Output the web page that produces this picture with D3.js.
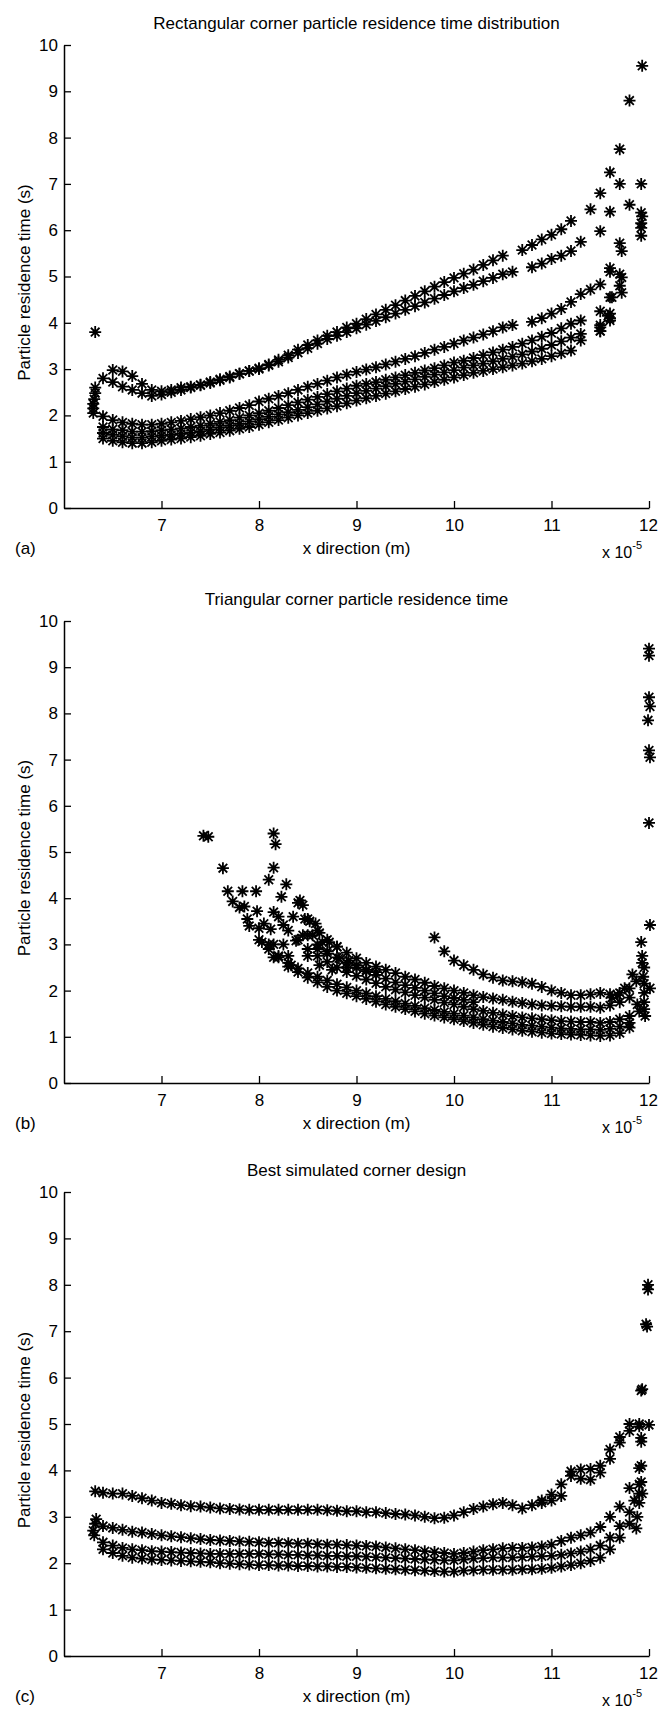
<!DOCTYPE html>
<html>
<head>
<meta charset="utf-8">
<script src="https://cdn.jsdelivr.net/npm/d3@7"></script>
<style>
  html, body { margin: 0; padding: 0; background: #fff; }
  svg text { font-family: "Liberation Sans", Arial, sans-serif; fill: #000; }
</style>
</head>
<body>
<svg id="chart" width="658" height="1709"></svg>
<script>
// x is in units of 1e-5 m, residence time in s
const xTicks = [7, 8, 9, 10, 11, 12];
const yTicks = [0, 1, 2, 3, 4, 5, 6, 7, 8, 9, 10];
const titles = [
  "Rectangular corner particle residence time distribution",
  "Triangular corner particle residence time",
  "Best simulated corner design"
];
const tags = ["(a)", "(b)", "(c)"];

// (a) rectangular corner
const rectX = [6.4, 6.5, 6.6, 6.7, 6.8, 6.9, 7.0, 7.1, 7.2, 7.3,
  7.4, 7.5, 7.6, 7.7, 7.8, 7.9, 8.0, 8.1, 8.2, 8.3,
  8.4, 8.5, 8.6, 8.7, 8.8, 8.9, 9.0, 9.1, 9.2, 9.3,
  9.4, 9.5, 9.6, 9.7, 9.8, 9.9, 10.0, 10.1, 10.2, 10.3,
  10.4, 10.5, 10.6, 10.7, 10.8, 10.9, 11.0, 11.1, 11.2, 11.3,
  11.4, 11.5, 11.6];
const rectA1 = [2.80, 2.72, 2.62, 2.55, 2.48, 2.42, 2.45, 2.50, 2.55, 2.60,
  2.65, 2.70, 2.76, 2.82, 2.90, 2.96, 3.02, 3.10, 3.20, 3.30,
  3.42, 3.52, 3.62, 3.72, 3.80, 3.90, 3.98, 4.08, 4.18, 4.28,
  4.38, 4.48, 4.58, 4.68, 4.78, 4.88, 4.97, 5.06, 5.15, 5.25,
  5.35, 5.45, null, 5.57, 5.68, 5.80, 5.90, 6.02, 6.20, null,
  6.45, 6.80, 7.25];
const rectA2 = [null, 2.98, 2.95, 2.85, 2.68, 2.55, 2.52, 2.55, 2.60, 2.62,
  2.66, 2.72, 2.78, 2.84, 2.90, 2.96, 3.00, 3.08, 3.16, 3.25,
  3.35, 3.45, 3.55, 3.65, 3.72, 3.80, 3.88, 3.96, 4.04, 4.12,
  4.20, 4.28, 4.36, 4.44, 4.52, 4.60, 4.68, 4.75, 4.82, 4.90,
  4.97, 5.05, 5.10, null, 5.20, 5.28, 5.38, 5.45, 5.55, 5.75,
  null, 5.98, 6.40];
const rectA3 = [1.98, 1.90, 1.85, 1.82, 1.80, 1.80, 1.82, 1.85, 1.88, 1.92,
  1.96, 2.00, 2.05, 2.10, 2.16, 2.22, 2.30, 2.36, 2.42, 2.48,
  2.55, 2.62, 2.68, 2.75, 2.82, 2.88, 2.94, 2.99, 3.04, 3.10,
  3.16, 3.22, 3.28, 3.35, 3.42, 3.48, 3.55, 3.62, 3.68, 3.75,
  3.82, 3.90, 3.95, null, 4.02, 4.10, 4.20, 4.30, 4.45, 4.62,
  4.72, 4.83, 5.18];
const rectA4 = [1.75, 1.70, 1.68, 1.65, 1.65, 1.66, 1.68, 1.70, 1.72, 1.75,
  1.78, 1.82, 1.86, 1.90, 1.95, 2.00, 2.05, 2.10, 2.16, 2.22,
  2.28, 2.34, 2.40, 2.46, 2.52, 2.58, 2.64, 2.68, 2.72, 2.77,
  2.82, 2.87, 2.92, 2.97, 3.02, 3.08, 3.14, 3.18, 3.24, 3.30,
  3.36, 3.42, 3.48, 3.55, 3.62, 3.70, 3.78, 3.88, 3.98, 4.05,
  null, null, 4.55];
const rectA5 = [1.62, 1.58, 1.55, 1.52, 1.52, 1.54, 1.56, 1.58, 1.60, 1.63,
  1.66, 1.70, 1.74, 1.78, 1.82, 1.87, 1.92, 1.97, 2.02, 2.07,
  2.12, 2.18, 2.24, 2.30, 2.36, 2.42, 2.48, 2.53, 2.58, 2.63,
  2.68, 2.73, 2.78, 2.83, 2.88, 2.93, 2.98, 3.03, 3.08, 3.12,
  3.17, 3.22, 3.27, 3.32, 3.38, 3.44, 3.52, 3.60, 3.68, 3.76,
  null, 3.95, 4.10];
const rectA6 = [1.50, 1.45, 1.42, 1.40, 1.40, 1.42, 1.45, 1.48, 1.50, 1.53,
  1.56, 1.60, 1.63, 1.67, 1.71, 1.75, 1.80, 1.85, 1.90, 1.95,
  2.00, 2.05, 2.10, 2.15, 2.20, 2.26, 2.32, 2.37, 2.42, 2.47,
  2.52, 2.57, 2.62, 2.67, 2.72, 2.77, 2.82, 2.87, 2.92, 2.96,
  3.00, 3.04, 3.08, 3.12, 3.17, 3.22, 3.28, 3.34, 3.40, 3.62,
  null, 3.82, 4.05];
const rectExtra = [[6.30, 2.05], [6.30, 2.15], [6.30, 2.25], [6.31, 2.35], [6.32, 2.48], [6.32, 2.60],
  [6.32, 3.80], [11.70, 7.75], [11.80, 8.80], [11.93, 9.55], [11.70, 7.00], [11.80, 6.55],
  [11.92, 7.00], [11.92, 6.38], [11.93, 6.30], [11.92, 6.15], [11.92, 6.05], [11.92, 5.88],
  [11.70, 5.72], [11.72, 5.55], [11.70, 5.05], [11.72, 4.98], [11.70, 4.80], [11.72, 4.65],
  [11.60, 5.10], [11.62, 4.55], [11.60, 4.20], [11.58, 4.15], [11.50, 4.25], [11.50, 3.90],
  [11.50, 3.82]];

// (b) triangular corner
const triX = [7.8, 7.9, 8.0, 8.1, 8.2, 8.3, 8.4, 8.5, 8.6, 8.7,
  8.8, 8.9, 9.0, 9.1, 9.2, 9.3, 9.4, 9.5, 9.6, 9.7,
  9.8, 9.9, 10.0, 10.1, 10.2, 10.3, 10.4, 10.5, 10.6, 10.7,
  10.8, 10.9, 11.0, 11.1, 11.2, 11.3, 11.4, 11.5, 11.6, 11.7,
  11.8];
const triB1 = [null, null, null, null, null, null, null, null, null, null,
  null, null, null, null, null, null, null, null, null, null,
  3.15, 2.85, 2.65, 2.55, 2.45, 2.35, 2.28, 2.22, 2.20, 2.18,
  2.15, 2.08, 2.00, 1.95, 1.90, 1.90, 1.92, 1.95, 1.92, 1.95,
  2.05];
const triB2 = [null, null, null, null, null, null, 3.90, 3.55, 3.30, 3.10,
  2.95, 2.82, 2.70, 2.60, 2.52, 2.45, 2.38, 2.30, 2.24, 2.17,
  2.10, 2.05, 2.00, 1.95, 1.90, 1.86, 1.83, 1.80, 1.76, 1.73,
  1.70, 1.68, 1.67, 1.66, 1.65, 1.65, 1.65, 1.63, 1.68, 1.75,
  1.85];
const triB6 = [null, null, null, null, null, null, null, 3.20, 3.00, 2.85,
  2.72, 2.60, 2.50, 2.42, 2.34, 2.26, 2.18, 2.12, 2.06, 2.00,
  1.94, 1.88, 1.84, 1.80, 1.75, null, null, null, null, null,
  null, null, null, null, null, null, null, null, null, null,
  null];
const triB3 = [null, null, null, null, 3.60, 3.30, 3.10, 2.90, 2.75, 2.62,
  2.50, 2.40, 2.32, 2.24, 2.16, 2.08, 2.02, 1.96, 1.90, 1.85,
  1.80, 1.74, 1.70, 1.65, 1.60, 1.56, 1.52, 1.48, 1.45, 1.42,
  1.40, 1.38, 1.36, 1.34, 1.33, 1.32, 1.32, 1.30, 1.32, 1.38,
  1.45];
const triB4 = [null, null, 3.35, 3.00, 2.75, 2.60, 2.48, 2.38, 2.30, 2.22,
  2.14, 2.07, 2.00, 1.94, 1.88, 1.82, 1.77, 1.72, 1.67, 1.62,
  1.58, 1.54, 1.50, 1.46, 1.42, 1.38, 1.35, 1.32, 1.29, 1.26,
  1.24, 1.22, 1.20, 1.18, 1.17, 1.16, 1.16, 1.15, 1.17, 1.22,
  1.30];
const triB5 = [3.80, 3.40, 3.10, 2.90, 2.72, 2.52, 2.40, 2.28, 2.18, 2.08,
  2.00, 1.94, 1.88, 1.82, 1.76, 1.70, 1.65, 1.60, 1.55, 1.50,
  1.46, 1.42, 1.38, 1.34, 1.30, 1.26, 1.22, 1.19, 1.16, 1.13,
  1.11, 1.09, 1.07, 1.06, 1.05, 1.04, 1.03, 1.02, 1.03, 1.08,
  1.20];
const triExtra = [[7.43, 5.35], [7.48, 5.33], [7.63, 4.65], [7.68, 4.15], [7.73, 3.93], [7.83, 4.15],
  [7.97, 4.15], [7.85, 3.82], [7.98, 3.72], [7.88, 3.55], [8.05, 3.45], [8.12, 3.33],
  [8.03, 3.05], [8.15, 3.00], [8.25, 3.00], [8.15, 2.72], [8.30, 2.75], [8.33, 2.55],
  [8.15, 5.40], [8.17, 5.17], [8.15, 4.66], [8.10, 4.40], [8.28, 4.30], [8.23, 4.03],
  [8.15, 3.70], [8.25, 3.42], [8.35, 3.60], [8.42, 3.95], [8.45, 3.85], [8.38, 3.08],
  [8.47, 3.55], [8.52, 3.50], [8.58, 3.45], [8.45, 3.20], [8.55, 3.20], [8.62, 3.25],
  [8.65, 3.05], [8.72, 3.05], [8.80, 2.95], [8.60, 2.90], [8.70, 2.80], [8.82, 2.70],
  [8.92, 2.65], [8.50, 2.75], [8.62, 2.55], [8.75, 2.45], [8.90, 2.50], [9.00, 2.55],
  [9.10, 2.45], [9.20, 2.40],
  [11.92, 3.05], [11.93, 2.75], [11.93, 2.60], [11.95, 2.50], [11.94, 2.30], [11.95, 2.15],
  [11.95, 1.95], [11.95, 1.75], [11.95, 1.60], [11.96, 1.45], [11.83, 2.35], [11.87, 2.20],
  [11.88, 1.70], [11.90, 1.55], [12.00, 9.40], [12.00, 9.25], [12.00, 8.35], [12.01, 8.15],
  [11.99, 7.85], [12.00, 7.20], [12.01, 7.05], [12.00, 5.63], [12.01, 3.42], [12.01, 2.05],
  [11.62, 1.85], [11.68, 1.90], [11.75, 2.05]];

// (c) best simulated corner
const bestX = [6.4, 6.5, 6.6, 6.7, 6.8, 6.9, 7.0, 7.1, 7.2, 7.3,
  7.4, 7.5, 7.6, 7.7, 7.8, 7.9, 8.0, 8.1, 8.2, 8.3,
  8.4, 8.5, 8.6, 8.7, 8.8, 8.9, 9.0, 9.1, 9.2, 9.3,
  9.4, 9.5, 9.6, 9.7, 9.8, 9.9, 10.0, 10.1, 10.2, 10.3,
  10.4, 10.5, 10.6, 10.7, 10.8, 10.9, 11.0, 11.1, 11.2, 11.3,
  11.4, 11.5, 11.6, 11.7, 11.8, 11.9];
const bestC1 = [3.52, 3.50, 3.50, 3.45, 3.40, 3.35, 3.30, 3.28, 3.25, 3.23,
  3.22, 3.20, 3.18, 3.17, 3.16, 3.15, 3.15, 3.15, 3.15, 3.15,
  3.15, 3.15, 3.15, 3.14, 3.13, 3.12, 3.12, 3.10, 3.10, 3.08,
  3.06, 3.05, 3.03, 3.00, 2.97, 2.98, 3.03, 3.10, 3.17, 3.22,
  3.27, 3.30, 3.25, 3.18, 3.25, 3.35, 3.48, 3.70, 3.98, 4.02,
  4.03, 4.10, 4.45, 4.72, 5.00, 5.00];
const bestC2 = [null, null, null, null, null, null, null, null, null, null,
  null, null, null, null, null, null, null, null, null, null,
  null, null, null, null, null, null, null, null, null, null,
  null, null, null, null, null, null, null, null, null, null,
  null, null, null, null, null, 3.30, 3.35, 3.45, 3.88, 3.82,
  3.80, 3.95, 4.25, 4.60, 4.85, 4.95];
const bestC3 = [2.80, 2.76, 2.72, 2.68, 2.66, 2.63, 2.60, 2.58, 2.56, 2.54,
  2.52, 2.50, 2.49, 2.48, 2.47, 2.46, 2.45, 2.44, 2.44, 2.43,
  2.42, 2.42, 2.41, 2.40, 2.40, 2.39, 2.38, 2.37, 2.36, 2.34,
  2.32, 2.30, 2.28, 2.26, 2.24, 2.22, 2.20, 2.22, 2.25, 2.28,
  2.30, 2.32, 2.33, 2.33, 2.34, 2.36, 2.40, 2.48, 2.55, 2.60,
  2.66, 2.78, 3.00, 3.22, 3.62, 4.05];
const bestC4 = [2.45, 2.38, 2.33, 2.30, 2.28, 2.26, 2.25, 2.24, 2.23, 2.22,
  2.21, 2.20, 2.20, 2.20, 2.20, 2.20, 2.20, 2.19, 2.19, 2.18,
  2.18, 2.17, 2.17, 2.16, 2.16, 2.15, 2.15, 2.14, 2.13, 2.12,
  2.11, 2.10, 2.09, 2.08, 2.07, 2.06, 2.06, 2.08, 2.10, 2.11,
  2.12, 2.12, 2.12, 2.13, 2.14, 2.15, 2.16, 2.18, 2.21, 2.25,
  2.30, 2.38, 2.55, 2.80, 3.10, 3.70];
const bestC5 = [2.30, 2.22, 2.16, 2.12, 2.10, 2.08, 2.07, 2.06, 2.05, 2.04,
  2.03, 2.02, 2.00, 1.99, 1.98, 1.97, 1.96, 1.96, 1.95, 1.95,
  1.94, 1.94, 1.93, 1.93, 1.92, 1.92, 1.91, 1.90, 1.89, 1.88,
  1.87, 1.86, 1.85, 1.84, 1.83, 1.82, 1.82, 1.84, 1.85, 1.86,
  1.86, 1.86, 1.86, 1.87, 1.87, 1.88, 1.90, 1.93, 1.96, 2.00,
  2.05, 2.12, 2.30, 2.55, 2.85, 3.50];
const bestExtra = [[6.32, 3.55], [12.00, 4.98], [6.33, 2.95], [6.30, 2.70], [6.31, 2.60], [6.32, 2.85],
  [11.85, 3.35], [11.93, 5.75], [11.92, 5.72], [11.97, 7.15], [11.98, 7.10], [11.99, 8.00],
  [11.99, 7.90], [11.92, 4.70], [11.92, 4.62], [11.92, 4.10], [11.92, 3.75], [11.93, 3.50],
  [11.90, 3.30], [11.88, 3.00], [11.87, 2.75]];

const panels = [
  { top: 45, bottom: 508, xs: rectX, series: [rectA1, rectA2, rectA3, rectA4, rectA5, rectA6], extra: rectExtra },
  { top: 621, bottom: 1083, xs: triX, series: [triB1, triB2, triB6, triB3, triB4, triB5], extra: triExtra },
  { top: 1192, bottom: 1656, xs: bestX, series: [bestC1, bestC2, bestC3, bestC4, bestC5], extra: bestExtra }
];

const left = 64, right = 649;
const font = '"Liberation Sans", Arial, sans-serif';

// matlab style '*' marker
const asterisk = {
  draw(ctx, size) {
    const r = Math.sqrt(size) / 2;
    const d = r * 0.72;
    ctx.moveTo(-r, 0); ctx.lineTo(r, 0);
    ctx.moveTo(0, -r); ctx.lineTo(0, r);
    ctx.moveTo(-d, -d); ctx.lineTo(d, d);
    ctx.moveTo(-d, d); ctx.lineTo(d, -d);
  }
};
const star = d3.symbol().type(asterisk).size(144);

const svg = d3.select('#chart');

panels.forEach((p, i) => {
  const x = d3.scaleLinear().domain([6, 12]).range([left, right]);
  const y = d3.scaleLinear().domain([0, 10]).range([p.bottom, p.top]);
  const g = svg.append('g');

  let pts = [];
  p.series.forEach(s => {
    s.forEach((v, j) => { if (v != null) pts.push([p.xs[j], v]); });
  });
  pts = pts.concat(p.extra);

  g.append('g').selectAll('path').data(pts).join('path')
    .attr('transform', d => `translate(${x(d[0])},${y(d[1])})`)
    .attr('d', star())
    .attr('fill', 'none')
    .attr('stroke', '#000')
    .attr('stroke-width', 1.8);

  const xAxis = g.append('g')
    .attr('transform', `translate(0,${p.bottom})`)
    .call(d3.axisBottom(x).tickValues(xTicks).tickFormat(d3.format('d'))
      .tickSizeInner(-7).tickSizeOuter(0).tickPadding(11));
  const yAxis = g.append('g')
    .attr('transform', `translate(${left},0)`)
    .call(d3.axisLeft(y).tickValues(yTicks).tickFormat(d3.format('d'))
      .tickSizeInner(-7).tickSizeOuter(0).tickPadding(6));

  [xAxis, yAxis].forEach(a => {
    a.attr('font-family', font).attr('font-size', 17);
    a.select('.domain').attr('stroke-width', 1.5);
    a.selectAll('.tick line').attr('stroke-width', 1.3);
  });
  // keep the last label inside the page
  xAxis.selectAll('.tick text').filter(d => d === 12).attr('dx', -1);

  g.append('text')
    .attr('x', (left + right) / 2).attr('y', p.top - 16)
    .attr('text-anchor', 'middle').attr('font-size', 17)
    .text(titles[i]);

  g.append('text')
    .attr('transform', `translate(30,${(p.top + p.bottom) / 2 + 6}) rotate(-90)`)
    .attr('text-anchor', 'middle').attr('font-size', 17)
    .text('Particle residence time (s)');

  g.append('text')
    .attr('x', (left + right) / 2).attr('y', p.bottom + 46)
    .attr('text-anchor', 'middle').attr('font-size', 17)
    .text('x direction (m)');

  g.append('text')
    .attr('x', 15).attr('y', p.bottom + 46)
    .attr('font-size', 17)
    .text(tags[i]);

  const mult = g.append('text')
    .attr('x', 602).attr('y', p.bottom + 50)
    .attr('font-size', 16);
  mult.append('tspan').text('x 10');
  mult.append('tspan').attr('dy', -9).attr('font-size', 11).text('-5');
});
</script>
</body>
</html>
